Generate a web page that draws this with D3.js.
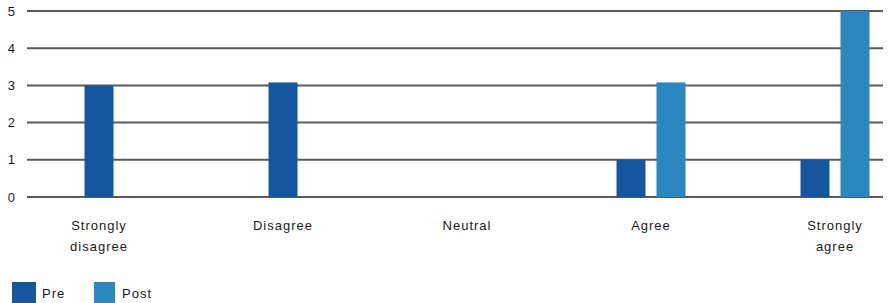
<!DOCTYPE html>
<html>
<head>
<meta charset="utf-8">
<script src="https://cdn.jsdelivr.net/npm/d3@7"></script>
<style>
  body { margin: 0; background: #fff; }
  text { font-family: "Liberation Sans", Arial, sans-serif; fill: #1a1a1a; }
</style>
</head>
<body>
<svg width="890" height="303"></svg>
<script>
// données
const categories = ["Strongly disagree", "Disagree", "Neutral", "Agree", "Strongly agree"];
const catLines = [["Strongly", "disagree"], ["Disagree"], ["Neutral"], ["Agree"], ["Strongly", "agree"]];
const series = ["Pre", "Post"];
const preValues = [3, 3.08, 0, 1, 1];
const postValues = [0, 0, 0, 3.08, 5];
const yTicks = [0, 1, 2, 3, 4, 5];

const colors = { Pre: "#14579e", Post: "#2b87bf" };

const svg = d3.select("svg");

const x = d3.scalePoint().domain(categories).range([99, 835]);
const y = d3.scaleLinear().domain([0, 5]).range([197, 11]);

const barW = 29, gap = 11;

// quadrillage
svg.selectAll(".grid")
  .data(yTicks)
  .join("line")
  .attr("class", "grid")
  .attr("x1", 27).attr("x2", 883)
  .attr("y1", d => y(d)).attr("y2", d => y(d))
  .attr("stroke", "#5a5a5a")
  .attr("stroke-width", 2);

// axe Y
const yAxis = svg.append("g")
  .attr("transform", "translate(15,0)")
  .call(d3.axisLeft(y).tickValues(yTicks).tickFormat(d3.format("d")).tickSize(0).tickPadding(0));
yAxis.select(".domain").remove();
yAxis.selectAll("text")
  .style("font-family", "'Liberation Sans', Arial, sans-serif")
  .style("font-size", "13px")
  .attr("fill", "#1a1a1a");

// barres : les barres à zéro sont omises, le reste est centré sur la catégorie
const bars = [];
categories.forEach(function(c, i) {
  const vals = [{ s: "Pre", v: preValues[i] }, { s: "Post", v: postValues[i] }].filter(d => d.v > 0);
  const total = vals.length * barW + (vals.length - 1) * gap;
  vals.forEach(function(d, j) {
    bars.push({ cat: c, s: d.s, v: d.v, x: x(c) - total / 2 + j * (barW + gap) });
  });
});

svg.selectAll(".bar")
  .data(bars)
  .join("rect")
  .attr("class", "bar")
  .attr("x", d => d.x)
  .attr("width", barW)
  .attr("y", d => y(d.v))
  .attr("height", d => y(0) - y(d.v))
  .attr("fill", d => colors[d.s]);

// étiquettes des catégories
const labels = svg.selectAll(".cat")
  .data(categories)
  .join("text")
  .attr("class", "cat")
  .attr("text-anchor", "middle")
  .style("font-size", "13px")
  .style("letter-spacing", "1px")
  .attr("y", 230);
labels.selectAll("tspan")
  .data((d, i) => catLines[i].map(t => ({ t: t, c: d })))
  .join("tspan")
  .attr("x", d => x(d.c))
  .attr("dy", (d, i) => i === 0 ? 0 : 21)
  .text(d => d.t);

// légende
const legend = svg.selectAll(".legend")
  .data(series)
  .join("g")
  .attr("class", "legend")
  .attr("transform", (d, i) => "translate(" + (i === 0 ? 12 : 94) + ",282)");
legend.append("rect")
  .attr("width", (d, i) => i === 0 ? 24 : 21)
  .attr("height", 21)
  .attr("fill", d => colors[d]);
legend.append("text")
  .attr("x", (d, i) => i === 0 ? 30 : 28)
  .attr("y", 16)
  .style("font-size", "13px")
  .style("letter-spacing", "1px")
  .text(d => d);
</script>
</body>
</html>
